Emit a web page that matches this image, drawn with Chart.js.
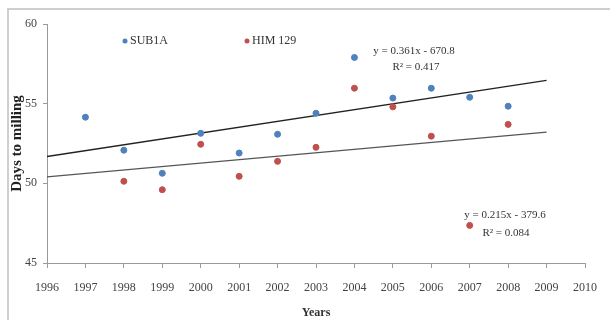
<!DOCTYPE html>
<html>
<head>
<meta charset="utf-8">
<script src="https://cdn.jsdelivr.net/npm/chart.js@4/dist/chart.umd.min.js"></script>
<style>
  html, body { margin: 0; padding: 0; background: #ffffff; }
  #wrap { width: 610px; height: 320px; }
</style>
</head>
<body>
<div id="wrap"><canvas id="c" width="610" height="320"></canvas></div>
<script>
// Days to milling per year for the two varieties
const years   = [1997, 1998, 1999, 2000, 2001, 2002, 2003, 2004, 2005, 2006, 2007, 2008];
const sub1a   = [54.15, 52.08, 50.63, 53.14, 51.9, 53.08, 54.4, 57.9, 55.35, 55.97, 55.4, 54.84];
const him129  = [null, 50.13, 49.6, 52.45, 50.44, 51.38, 52.26, 55.97, 54.8, 52.96, 47.36, 53.7];
const seriesNames = ['SUB1A', 'HIM 129'];
const trendRange = [1996, 2009];
const yTicks = [45, 50, 55, 60];
const xRange = [1996, 2010];
const eqLabels = [
  ['y = 0.361x - 670.8', 'R² = 0.417'],
  ['y = 0.215x - 379.6', 'R² = 0.084']
];

const BLUE = '#4F81BD';
const RED = '#C0504D';
const SERIF = '"Liberation Serif", "Times New Roman", serif';

function toPoints(xs, ys) {
  const out = [];
  xs.forEach((x, i) => { if (ys[i] !== null) out.push({ x: x, y: ys[i] }); });
  return out;
}

// least-squares linear trendline over the observed points
function trendLine(xs, ys) {
  const pts = toPoints(xs, ys);
  const n = pts.length;
  const mx = pts.reduce((s, p) => s + p.x, 0) / n;
  const my = pts.reduce((s, p) => s + p.y, 0) / n;
  let sxy = 0, sxx = 0;
  pts.forEach(p => { sxy += (p.x - mx) * (p.y - my); sxx += (p.x - mx) * (p.x - mx); });
  const b = sxy / sxx;
  const a = my - b * mx;
  return trendRange.map(x => ({ x: x, y: a + b * x }));
}

// white background plus the light frame around the figure
const framePlugin = {
  id: 'frame',
  beforeDraw(chart) {
    const ctx = chart.ctx;
    ctx.save();
    ctx.fillStyle = '#ffffff';
    ctx.fillRect(0, 0, chart.width, chart.height);
    ctx.strokeStyle = '#cfcfcf';
    ctx.lineWidth = 2;
    ctx.beginPath();
    ctx.moveTo(8, chart.height + 5);
    ctx.lineTo(8, 9);
    ctx.lineTo(chart.width + 5, 9);
    ctx.stroke();
    ctx.restore();
  }
};

// series key and trendline equations
const textPlugin = {
  id: 'texts',
  afterDatasetsDraw(chart) {
    const ctx = chart.ctx;
    ctx.save();
    ctx.font = '12px ' + SERIF;
    ctx.textBaseline = 'middle';
    ctx.textAlign = 'left';
    const keys = [
      { x: 125, color: BLUE, name: seriesNames[0] },
      { x: 247, color: RED, name: seriesNames[1] }
    ];
    keys.forEach(k => {
      ctx.fillStyle = k.color;
      ctx.beginPath();
      ctx.arc(k.x, 41, 2.5, 0, Math.PI * 2);
      ctx.fill();
      ctx.fillStyle = '#333333';
      ctx.fillText(k.name, k.x + 5, 41);
    });

    ctx.font = '11px ' + SERIF;
    ctx.textAlign = 'center';
    ctx.fillStyle = '#333333';
    ctx.fillText(eqLabels[0][0], 414, 51);
    ctx.fillText(eqLabels[0][1], 416, 67);
    ctx.fillText(eqLabels[1][0], 505, 215);
    ctx.fillText(eqLabels[1][1], 506, 233);
    ctx.restore();
  }
};

new Chart(document.getElementById('c'), {
  type: 'scatter',
  data: {
    datasets: [
      {
        label: seriesNames[0],
        data: toPoints(years, sub1a),
        backgroundColor: BLUE,
        borderColor: BLUE,
        pointRadius: 3,
        pointHoverRadius: 3,
        order: 1
      },
      {
        label: seriesNames[1],
        data: toPoints(years, him129),
        backgroundColor: RED,
        borderColor: RED,
        pointRadius: 3,
        pointHoverRadius: 3,
        order: 1
      },
      {
        label: 'Linear (' + seriesNames[0] + ')',
        type: 'line',
        data: trendLine(years, sub1a),
        borderColor: '#222222',
        borderWidth: 1.5,
        pointRadius: 0,
        fill: false,
        order: 2
      },
      {
        label: 'Linear (' + seriesNames[1] + ')',
        type: 'line',
        data: trendLine(years, him129),
        borderColor: '#555555',
        borderWidth: 1.2,
        pointRadius: 0,
        fill: false,
        order: 2
      }
    ]
  },
  options: {
    responsive: false,
    animation: false,
    devicePixelRatio: 1,
    layout: { padding: { left: 0, right: 20, top: 24, bottom: 0 } },
    plugins: {
      legend: { display: false },
      tooltip: { enabled: false }
    },
    scales: {
      x: {
        type: 'linear',
        min: xRange[0],
        max: xRange[1],
        afterFit(scale) { scale.height = 57; },
        ticks: {
          stepSize: 1,
          color: '#444444',
          padding: 13,
          font: { family: SERIF, size: 12 },
          callback: v => String(v)
        },
        grid: { drawOnChartArea: false, tickLength: 5, color: '#9a9a9a' },
        border: { color: '#9a9a9a', width: 1 },
        title: {
          display: true,
          text: 'Years',
          color: '#333333',
          font: { family: SERIF, size: 12, weight: 'bold' },
          padding: { top: 2, bottom: 0 }
        }
      },
      y: {
        min: yTicks[0],
        max: yTicks[yTicks.length - 1],
        afterFit(scale) { scale.width = 47; },
        afterBuildTicks(scale) { scale.ticks = yTicks.map(v => ({ value: v })); },
        ticks: {
          color: '#444444',
          padding: 6,
          font: { family: SERIF, size: 12 }
        },
        grid: { drawOnChartArea: false, tickLength: 4, color: '#9a9a9a' },
        border: { color: '#9a9a9a', width: 1 },
        title: {
          display: true,
          text: 'Days to milling',
          color: '#222222',
          font: { family: SERIF, size: 15, weight: 'bold' },
          padding: { top: 8, bottom: 0 }
        }
      }
    }
  },
  plugins: [framePlugin, textPlugin]
});
</script>
</body>
</html>
